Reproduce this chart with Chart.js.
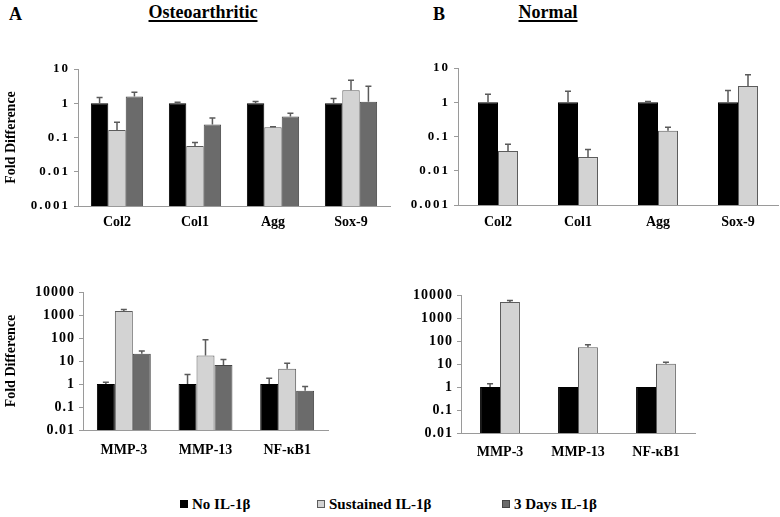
<!DOCTYPE html>
<html>
<head>
<meta charset="utf-8">
<script src="https://cdn.jsdelivr.net/npm/chart.js"></script>
<style>
  body { margin: 0; background: #fff; }
  #page { position: relative; width: 780px; height: 517px; overflow: hidden;
          font-family: "Liberation Serif", "Times New Roman", serif; font-weight: bold; color: #000; }
  canvas { position: absolute; }
  .txt { position: absolute; white-space: nowrap; line-height: 1; }
  .head { font-size: 18px; }
  .u { text-decoration: underline; text-decoration-thickness: 2px; text-underline-offset: 2px; }
  .legend { position: absolute; top: 495px; font-size: 15px; line-height: 18px; white-space: nowrap; }
  .sw { display: inline-block; width: 8px; height: 8px; margin-right: 4px; vertical-align: 1px; box-sizing: border-box; }
</style>
</head>
<body>
<div id="page">
  <div class="txt head" style="left:9px;top:5px;">A</div>
  <div class="txt head u" style="left:203px;top:3px;transform:translateX(-50%);">Osteoarthritic</div>
  <div class="txt head" style="left:433px;top:5px;">B</div>
  <div class="txt head u" style="left:548px;top:3px;transform:translateX(-50%);">Normal</div>

  <canvas id="oaMatrix" width="400" height="190" style="left:0;top:50px;"></canvas>
  <canvas id="nMatrix" width="390" height="190" style="left:390px;top:50px;"></canvas>
  <canvas id="oaCat" width="390" height="200" style="left:0;top:270px;"></canvas>
  <canvas id="nCat" width="390" height="200" style="left:390px;top:270px;"></canvas>

  <div id="legend"></div>
</div>

<script>
// series + categories
const seriesNames = ['No IL-1β', 'Sustained IL-1β', '3 Days IL-1β'];
const seriesColors = ['#000000', '#d3d3d3', '#6b6b6b'];
const seriesBorders = ['#000000', '#5c5c5c', '#454545'];

const matrixGenes = ['Col2', 'Col1', 'Agg', 'Sox-9'];
const catabolicGenes = ['MMP-3', 'MMP-13', 'NF-κB1'];

const ticksMatrix = [0.001, 0.01, 0.1, 1, 10];
const ticksCatabolic = [0.01, 0.1, 1, 10, 100, 1000, 10000];

// A - osteoarthritic, matrix genes (mean and upper error value)
const oaMatrixNo = [1, 1, 1, 1];
const oaMatrixNoErr = [1.47, 1.07, 1.12, 1.37];
const oaMatrixSus = [0.166, 0.056, 0.2, 2.4];
const oaMatrixSusErr = [0.277, 0.072, 0.205, 4.7];
const oaMatrix3d = [1.57, 0.24, 0.41, 1.1];
const oaMatrix3dErr = [2.1, 0.37, 0.51, 3.15];

// B - normal, matrix genes
const nMatrixNo = [1, 1, 1, 1];
const nMatrixNoErr = [1.71, 2.1, 1.05, 2.2];
const nMatrixSus = [0.038, 0.025, 0.148, 3.0];
const nMatrixSusErr = [0.059, 0.042, 0.186, 6.4];

// A - osteoarthritic, catabolic genes
const oaCatNo = [1, 1, 1];
const oaCatNoErr = [1.18, 2.6, 1.76];
const oaCatSus = [1510, 17.5, 4.6];
const oaCatSusErr = [1740, 84, 7.9];
const oaCat3d = [20.6, 6.7, 0.51];
const oaCat3dErr = [27, 11.7, 0.77];

// B - normal, catabolic genes
const nCatNo = [1, 1, 1];
const nCatNoErr = [1.4, 1.0, 1.0];
const nCatSus = [5000, 54, 10.3];
const nCatSusErr = [5700, 68, 12];

const FONT = 'Liberation Serif';

// draws the upper error bar of each bar
const errorBars = {
  id: 'errorBars',
  afterDatasetsDraw(chart) {
    const ctx = chart.ctx;
    const yScale = chart.scales.y;
    chart.data.datasets.forEach((ds, i) => {
      if (!ds.errUp) return;
      chart.getDatasetMeta(i).data.forEach((bar, j) => {
        const up = ds.errUp[j];
        if (up == null || up <= ds.data[j]) return;
        const py = yScale.getPixelForValue(up);
        ctx.save();
        ctx.strokeStyle = '#5a5a5a';
        ctx.lineWidth = 1.5;
        ctx.beginPath();
        ctx.moveTo(bar.x, bar.y);
        ctx.lineTo(bar.x, py);
        ctx.moveTo(bar.x - 3, py);
        ctx.lineTo(bar.x + 3, py);
        ctx.stroke();
        ctx.restore();
      });
    });
  }
};

// the y tick numbers in the figure are spaced wide, so add some letter spacing to them
const wideTicks = {
  id: 'wideTicks',
  afterLayout(chart) {
    const s = chart.scales.y;
    if (s._wide) return;
    const orig = s.drawLabels.bind(s);
    s.drawLabels = (area) => {
      const c = s.ctx;
      c.save();
      c.letterSpacing = chart.options.tickSpacing;
      orig(area);
      c.restore();
    };
    s._wide = true;
  }
};

const makeDataset = (idx, values, errs) => ({
  label: seriesNames[idx],
  data: values,
  errUp: errs,
  backgroundColor: seriesColors[idx],
  borderColor: seriesBorders[idx],
  borderWidth: 1,
  borderSkipped: 'bottom'
});

const buildPanel = (id, labels, datasets, ticks, cfg) => {
  new Chart(document.getElementById(id), {
    type: 'bar',
    data: { labels: labels, datasets: datasets },
    plugins: [errorBars, wideTicks],
    options: {
      responsive: false,
      animation: false,
      events: [],
      tickSpacing: cfg.tickSpacing,
      layout: { padding: cfg.padding },
      datasets: { bar: { categoryPercentage: cfg.groupPct, barPercentage: 1.0 } },
      plugins: { legend: { display: false }, tooltip: { enabled: false } },
      scales: {
        x: {
          afterFit: (s) => { s.height = cfg.xHeight; },
          grid: { display: false, drawTicks: false },
          border: { display: true, color: '#9a9a9a', width: 1 },
          ticks: { color: '#000', padding: cfg.xPad, font: { family: FONT, size: 14, weight: 'bold' } }
        },
        y: {
          type: 'logarithmic',
          min: ticks[0],
          max: ticks[ticks.length - 1],
          afterBuildTicks: (s) => { s.ticks = ticks.map(v => ({ value: v })); },
          afterFit: (s) => { s.width = cfg.yWidth; },
          grid: { drawOnChartArea: false, drawTicks: true, tickLength: 4, color: '#9a9a9a' },
          border: { color: '#9a9a9a', width: 1 },
          ticks: {
            color: '#000', padding: 4,
            font: { family: FONT, size: cfg.yFont, weight: 'bold' },
            callback: (v) => String(v)
          },
          title: {
            display: cfg.yTitle,
            text: 'Fold Difference',
            color: '#000',
            padding: { top: 3, bottom: 0 },
            font: { family: FONT, size: 14, weight: 'bold' }
          }
        }
      }
    }
  });
};

buildPanel('oaMatrix', matrixGenes, [
  makeDataset(0, oaMatrixNo, oaMatrixNoErr),
  makeDataset(1, oaMatrixSus, oaMatrixSusErr),
  makeDataset(2, oaMatrix3d, oaMatrix3dErr)
], ticksMatrix, { padding: { left: 0, top: 19, right: 10, bottom: 0 }, yWidth: 78, xHeight: 34, groupPct: 0.67, xPad: 8, yFont: 13, tickSpacing: '2px', yTitle: true });

buildPanel('nMatrix', matrixGenes, [
  makeDataset(0, nMatrixNo, nMatrixNoErr),
  makeDataset(1, nMatrixSus, nMatrixSusErr)
], ticksMatrix, { padding: { left: 0, top: 18, right: 2, bottom: 0 }, yWidth: 68, xHeight: 35, groupPct: 0.5, xPad: 9, yFont: 13, tickSpacing: '2px', yTitle: false });

buildPanel('oaCat', catabolicGenes, [
  makeDataset(0, oaCatNo, oaCatNoErr),
  makeDataset(1, oaCatSus, oaCatSusErr),
  makeDataset(2, oaCat3d, oaCat3dErr)
], ticksCatabolic, { padding: { left: 0, top: 22, right: 62, bottom: 0 }, yWidth: 83, xHeight: 40, groupPct: 0.66, xPad: 12, yFont: 14, tickSpacing: '1px', yTitle: true });

buildPanel('nCat', catabolicGenes, [
  makeDataset(0, nCatNo, nCatNoErr),
  makeDataset(1, nCatSus, nCatSusErr)
], ticksCatabolic, { padding: { left: 0, top: 25, right: 85, bottom: 0 }, yWidth: 71, xHeight: 37, groupPct: 0.51, xPad: 11, yFont: 14, tickSpacing: '1px', yTitle: false });

// shared legend
const legendX = [180, 317, 502];
const legend = document.getElementById('legend');
seriesNames.forEach((name, i) => {
  const item = document.createElement('div');
  item.className = 'legend';
  item.style.left = legendX[i] + 'px';
  item.innerHTML = '<span class="sw" style="background:' + seriesColors[i] + ';border:1px solid ' + seriesBorders[i] + '"></span>' + name;
  legend.appendChild(item);
});
</script>
</body>
</html>
